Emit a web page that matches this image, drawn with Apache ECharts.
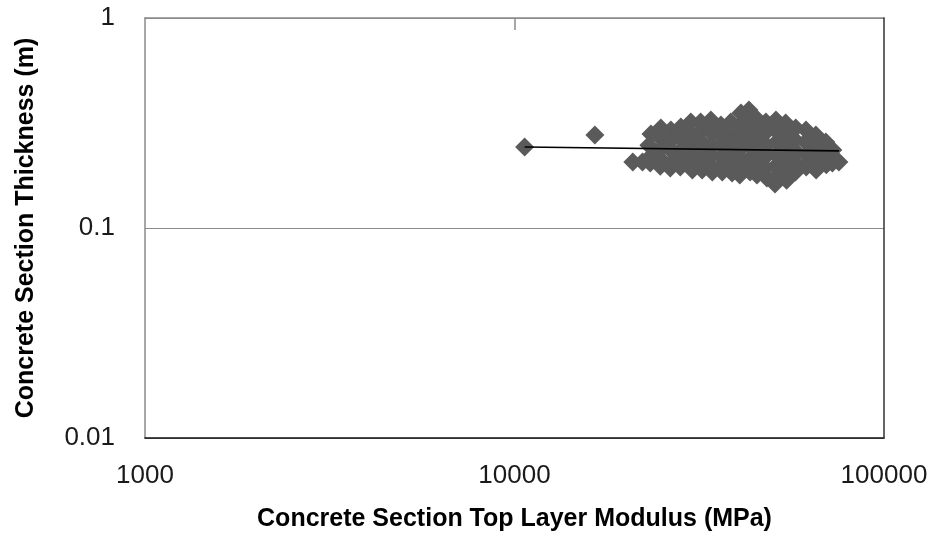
<!DOCTYPE html>
<html>
<head>
<meta charset="utf-8">
<script src="https://cdn.jsdelivr.net/npm/echarts@6/dist/echarts.min.js"></script>
<style>
html,body{margin:0;padding:0;background:#fff;}
#chart{width:937px;height:539px;}
</style>
</head>
<body>
<div id="chart"></div>
<script>
// Data
const modulus = [
  10650, 16500, 20900, 22200,
  23400, 23100, 23600, 23300,
  24900, 25200, 24700, 25000, 24800,
  26500, 26300, 26800, 26600, 26400,
  28200, 28000, 28500, 28300, 28100,
  30000, 29800, 30200, 30100, 29900, 30300,
  31900, 32100, 31700, 32000, 31800, 32200,
  34000, 33800, 34200, 34100, 33900, 34300,
  36200, 36000, 36400, 36300, 36100, 36500,
  38500, 38300, 38700, 38600, 38400, 38800,
  41000, 40800, 41200, 41100, 40900, 41300, 40700,
  43100, 42900, 43300, 43200, 43000, 43400,
  45000, 44800, 45200, 45100, 44900, 45300,
  47900, 47700, 48100, 48000, 47800, 48200,
  51000, 50800, 51200, 51100, 50900, 51300, 50700,
  54200, 54000, 54400, 54300, 54100, 54500,
  57700, 57500, 57900, 57800, 57600,
  61500, 61300, 61700, 61600,
  65400, 65200, 65600, 65500,
  69600, 69400, 69800,
  72700, 72500,
  75500
];
const thickness = [
  0.243, 0.277, 0.206, 0.206,
  0.280, 0.248, 0.223, 0.204,
  0.299, 0.262, 0.235, 0.211, 0.197,
  0.293, 0.257, 0.230, 0.204, 0.193,
  0.303, 0.271, 0.240, 0.215, 0.195,
  0.320, 0.283, 0.254, 0.223, 0.200, 0.189,
  0.320, 0.293, 0.262, 0.235, 0.211, 0.189,
  0.327, 0.287, 0.248, 0.223, 0.200, 0.185,
  0.309, 0.277, 0.246, 0.218, 0.193, 0.185,
  0.320, 0.283, 0.257, 0.228, 0.204, 0.183,
  0.353, 0.309, 0.274, 0.240, 0.215, 0.193, 0.179,
  0.365, 0.327, 0.287, 0.248, 0.211, 0.185,
  0.334, 0.299, 0.262, 0.230, 0.204, 0.179,
  0.320, 0.283, 0.248, 0.220, 0.193, 0.173,
  0.327, 0.293, 0.257, 0.223, 0.197, 0.177, 0.162,
  0.316, 0.277, 0.240, 0.211, 0.189, 0.169,
  0.299, 0.262, 0.230, 0.204, 0.185,
  0.293, 0.257, 0.223, 0.195,
  0.277, 0.240, 0.211, 0.189,
  0.257, 0.223, 0.200,
  0.235, 0.204,
  0.206
];
// Power trendline endpoints
const trendModulus = [10650, 75500];
const trendThickness = [0.243, 0.233];

const xTicks = [1000, 10000, 100000];
const yTicks = [0.01, 0.1, 1];

const scatterData = modulus.map((m, i) => [m, thickness[i]]);
const trendData = trendModulus.map((m, i) => [m, trendThickness[i]]);

const fmt = v => String(Number(Number(v).toPrecision(6)));
const FONT = '"Liberation Sans", Arial, sans-serif';

const chart = echarts.init(document.getElementById('chart'), null, {renderer: 'canvas'});
chart.setOption({
  animation: false,
  backgroundColor: '#ffffff',
  grid: {left: 145, right: 53, top: 18, bottom: 101, containLabel: false},
  xAxis: [{
    type: 'log', logBase: 10, min: xTicks[0], max: xTicks[xTicks.length - 1],
    position: 'bottom',
    z: 4,
    name: 'Concrete Section Top Layer Modulus (MPa)',
    nameLocation: 'middle', nameGap: 69,
    nameTextStyle: {fontFamily: FONT, fontWeight: 'bold', fontSize: 25, color: '#000'},
    axisLine: {show: true, lineStyle: {color: '#111', width: 1.5}},
    axisTick: {show: false},
    axisLabel: {margin: 25, fontFamily: FONT, fontSize: 26, color: '#1a1a1a', formatter: fmt},
    splitLine: {show: false},
    minorTick: {show: false}
  }, {
    type: 'log', logBase: 10, min: xTicks[0], max: xTicks[xTicks.length - 1],
    position: 'top',
    z: 1,
    axisLine: {show: true, lineStyle: {color: '#8a8a8a', width: 1.5}},
    axisTick: {show: true, inside: true, length: 12, customValues: [xTicks[1]], lineStyle: {color: '#8a8a8a', width: 1.5}},
    axisLabel: {show: false},
    splitLine: {show: false}
  }],
  yAxis: [{
    type: 'log', logBase: 10, min: yTicks[0], max: yTicks[yTicks.length - 1],
    position: 'left',
    z: 3,
    name: 'Concrete Section Thickness (m)',
    nameLocation: 'middle', nameGap: 106,
    nameTextStyle: {fontFamily: FONT, fontWeight: 'bold', fontSize: 25, color: '#000'},
    axisLine: {show: true, lineStyle: {color: '#8a8a8a', width: 1.5}},
    axisTick: {show: false},
    axisLabel: {margin: 30, fontFamily: FONT, fontSize: 26, color: '#1a1a1a', formatter: fmt},
    splitLine: {show: true, lineStyle: {color: '#8a8a8a', width: 1.2}}
  }, {
    type: 'log', logBase: 10, min: yTicks[0], max: yTicks[yTicks.length - 1],
    position: 'right',
    z: 5,
    axisLine: {show: true, lineStyle: {color: '#333', width: 1.5}},
    axisTick: {show: false},
    axisLabel: {show: false},
    splitLine: {show: false}
  }],
  series: [{
    type: 'scatter',
    xAxisIndex: 0, yAxisIndex: 0,
    data: scatterData,
    symbol: 'diamond',
    symbolSize: 19,
    itemStyle: {color: '#5a5a5a', opacity: 1},
    z: 2
  }, {
    type: 'line',
    xAxisIndex: 0, yAxisIndex: 0,
    data: trendData,
    showSymbol: false,
    symbol: 'none',
    lineStyle: {color: '#000', width: 1.6},
    z: 3
  }]
});
</script>
</body>
</html>
